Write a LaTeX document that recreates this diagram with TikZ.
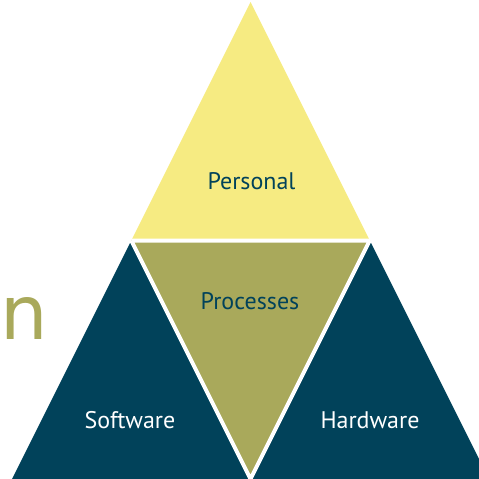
\documentclass[tikz,border=0pt]{standalone}
\usepackage{fontspec}
\setmainfont{PT Sans}
\newfontfamily\titelfont{DejaVu Sans}
\usetikzlibrary{calc}
\definecolor{geel}{HTML}{F6EB82}
\definecolor{olijf}{HTML}{A9A95B}
\definecolor{blauw}{HTML}{01425A}
\tikzset{
    vlaktekst/.style={anchor=base, inner sep=0pt, font=\fontsize{24}{24}\selectfont},
    scheiding/.style={white, line width=4pt}
}

\begin{document}
\begin{tikzpicture}[x=1pt,y=-1pt]
    \useasboundingbox (0,0) rectangle (479,479);
    \clip (0,0) rectangle (479,479);
    % hoekpunten van de grote driehoek
    \coordinate (T) at (250.5,2);
    \coordinate (L) at (131.25,240.5);
    \coordinate (R) at (369.75,240.5);
    \coordinate (A) at (12,479);
    \coordinate (M) at (250.5,479);
    \coordinate (B) at (489,479);
    \fill[geel] (T) -- (L) -- (R) -- cycle;
    \fill[olijf] (L) -- (R) -- (M) -- cycle;
    \fill[blauw] (L) -- (A) -- (M) -- cycle;
    \fill[blauw] (R) -- (M) -- (B) -- cycle;
    \draw[scheiding] (L) -- (R) (L) -- (M) -- (R);

    \node[vlaktekst, text=blauw] (personal) at (251.5,189) {Personal};
    \node[vlaktekst, text=blauw] (processes) at (250,309) {Processes};
    \node[vlaktekst, text=white] (software) at (130,428) {Software};
    \node[vlaktekst, text=white] (hardware) at (370,428) {Hardware};

    \node[anchor=base west, inner sep=0pt, text=olijf, font=\titelfont\fontsize{75}{75}\selectfont] (titel) at (0,339) {n};
\end{tikzpicture}
\end{document}
